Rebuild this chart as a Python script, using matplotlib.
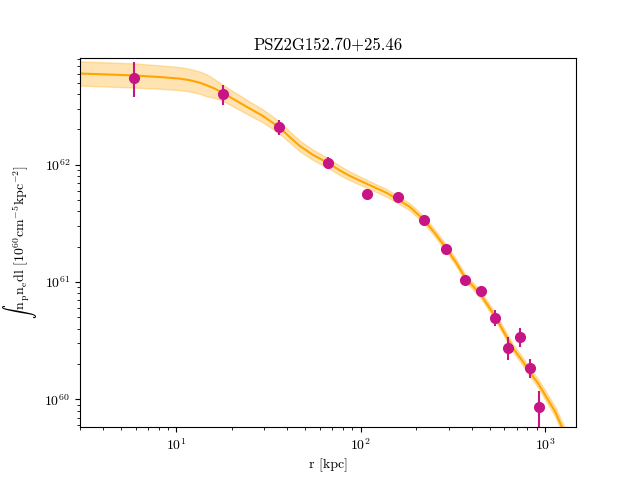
#!/usr/bin/env python3
import matplotlib
matplotlib.use('Agg')
import matplotlib.pyplot as plt
import numpy as np

plt.rcParams['font.family'] = 'serif'
plt.rcParams['font.serif'] = ['cmr10']
plt.rcParams['mathtext.fontset'] = 'cm'
plt.rcParams['axes.formatter.use_mathtext'] = True
plt.rcParams['axes.unicode_minus'] = False

# measured emission measure profile
r_data = [5.9, 17.8, 35.8, 66.2, 107.8, 158.8, 219.8, 289.8, 367, 449, 535, 630, 731, 828, 927]
em_data = [5.54e62, 4.04e62, 2.11e62, 1.04e62, 5.65e61, 5.32e61, 3.39e61, 1.91e61,
           1.04e61, 8.37e60, 4.92e60, 2.73e60, 3.39e60, 1.84e60, 8.55e59]
em_lo = [1.73e62, 0.78e62, 0.31e62, 0.12e62, 0.55e61, 0.50e61, 0.30e61, 0.17e61,
         0.10e61, 0.85e60, 0.72e60, 0.57e60, 0.57e60, 0.33e60, 4.0e59]
em_hi = [1.91e62, 0.79e62, 0.31e62, 0.13e62, 0.60e61, 0.55e61, 0.33e61, 0.19e61,
         0.11e61, 0.90e60, 0.83e60, 0.70e60, 0.70e60, 0.38e60, 3.2e59]

# best-fit model and its uncertainty (dex half-width)
r_model = [2.97, 4.33, 5.91, 8.09, 10.4, 11.77, 13.33, 14.5, 16.09, 17.8, 20.65, 24.0, 29.3,
           35.8, 41.1, 46.6, 54.8, 66.2, 76.9, 87.1, 107.8, 138, 184.5, 220, 252, 290, 328,
           367, 406, 449, 535, 598, 670, 750, 828, 916, 1026, 1132, 1237, 1455]
em_model = [6.0e62, 5.88e62, 5.77e62, 5.60e62, 5.43e62, 5.27e62, 5.02e62, 4.78e62, 4.47e62,
            4.12e62, 3.59e62, 3.13e62, 2.62e62, 2.11e62, 1.73e62, 1.45e62, 1.22e62, 1.04e62,
            8.97e61, 8.05e61, 6.88e61, 5.77e61, 4.38e61, 3.39e61, 2.62e61, 1.95e61, 1.48e61,
            1.10e61, 9.25e60, 7.74e60, 5.12e60, 3.74e60, 2.73e60, 2.15e60, 1.70e60, 1.37e60,
            1.02e60, 7.89e59, 5.77e59, 3.6e59]
band_dex = [0.103, 0.103, 0.103, 0.10, 0.098, 0.097, 0.095, 0.094, 0.08, 0.068, 0.064, 0.06,
            0.055, 0.051, 0.048, 0.046, 0.044, 0.043, 0.04, 0.037, 0.034, 0.032, 0.03, 0.03,
            0.03, 0.03, 0.03, 0.03, 0.03, 0.03, 0.031, 0.032, 0.033, 0.034, 0.035, 0.037,
            0.04, 0.042, 0.044, 0.047]

em_model = np.array(em_model)
band = np.array(band_dex)

fig = plt.figure()
ax = fig.add_subplot(111)

ax.fill_between(r_model, em_model / 10**band, em_model * 10**band,
                color='orange', alpha=0.3, lw=1)
ax.plot(r_model, em_model, color='orange', lw=1.5)
ax.errorbar(r_data, em_data, yerr=[em_lo, em_hi], fmt='o', color='mediumvioletred',
            markersize=7, elinewidth=1.5, capsize=0)

ax.set_xscale('log')
ax.set_yscale('log')
ax.set_xlim(3, 1470)
ax.set_ylim(5.8e59, 8.2e62)
ax.set_xlabel('r [kpc]')
ax.set_ylabel(r'$\int\, \mathrm{n_p n_e dl}\ [10^{60}\mathrm{cm^{-5} kpc^{-2}}]$')
ax.set_title('PSZ2G152.70+25.46')

fig.savefig('out.png', dpi=100)
